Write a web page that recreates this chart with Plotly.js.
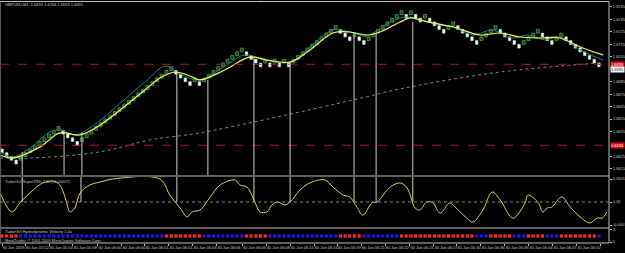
<!DOCTYPE html>
<html><head><meta charset="utf-8">
<script src="https://cdn.plot.ly/plotly-3.0.1.min.js"></script>
<style>html,body{margin:0;padding:0;background:#000;}#c{width:625px;height:253px;}</style>
</head><body><div id="c"></div>
<script>
// ---- data ----
const BRICK = 0.0003;
const closes = [1.6628,1.6625,1.6622,1.6619,
1.6625,1.6628,1.6631,1.6634,1.6637,1.6640,1.6643,1.6646,1.6649,
1.6643,1.6640,1.6637,1.6634,
1.6640,1.6643,1.6646,1.6649,1.6652,1.6655,1.6658,1.6661,1.6664,1.6667,1.6670,1.6673,1.6676,1.6679,1.6682,1.6685,1.6688,1.6691,1.6694,1.6697,
1.6691,1.6688,1.6685,1.6682,
1.6688,1.6682,
1.6688,1.6691,1.6694,1.6697,1.6700,1.6703,1.6706,1.6709,1.6712,
1.6706,1.6703,1.6700,1.6697,
1.6703,1.6697,1.6703,1.6697,1.6703,1.6697,
1.6703,1.6706,1.6709,1.6712,1.6715,1.6718,1.6721,1.6724,1.6727,1.6730,
1.6724,1.6721,1.6718,
1.6724,1.6718,1.6715,
1.6721,1.6724,1.6727,1.6730,1.6733,1.6736,1.6739,1.6742,
1.6736,1.6742,1.6736,1.6733,1.6739,
1.6733,1.6730,1.6727,1.6724,
1.6730,1.6733,
1.6727,1.6724,1.6721,1.6718,1.6715,
1.6721,1.6724,1.6727,1.6730,
1.6724,1.6721,1.6718,1.6715,1.6712,
1.6718,1.6721,1.6724,1.6727,
1.6721,1.6718,1.6715,
1.6721,1.6724,
1.6718,1.6715,1.6712,1.6709,1.6706,1.6703,1.6700,1.6697];

const yellowX = [-0.4,2.3,8.1,12.3,16.6,20.9,30.4,33.6,36.8,40,42.1,47.4,52.8,56.4,61.3,65.5,70.4,74,77.7,80.4,84.7,86.8,88.9,91.7,96,101.7,106,110.2,114.5,118.7,123,127.9];
const yellowY = [1.66262,1.66238,1.66327,1.66439,1.66423,1.66503,1.66784,1.6688,1.66928,1.66896,1.66864,1.66944,1.67049,1.67024,1.67008,1.67105,1.67241,1.67249,1.67225,1.67249,1.6733,1.67362,1.67346,1.67322,1.67289,1.67225,1.67241,1.67209,1.67201,1.67201,1.67129,1.67065];

const tealX = [-0.4,2.3,6,10.2,12.3,15.5,18.7,30.4,34.7,37.9,42.1,47.4,51.7,56,61.3,65.5,70.4,74,77.7,81.5,85.7,88.9,93.2,96,100.2,104.3,108.5,111.9,115.5,118.7,123,127.9];
const tealY = [1.66287,1.66246,1.66319,1.66447,1.66463,1.66423,1.66479,1.66848,1.66976,1.66912,1.66864,1.66976,1.67065,1.67024,1.67008,1.67129,1.67265,1.67249,1.67217,1.67305,1.6737,1.67346,1.67305,1.67289,1.67225,1.67265,1.67201,1.67225,1.67185,1.67209,1.67105,1.67024];

const slowX = [-0.4,6.6,20.9,31.5,42.1,74.7,84.7,106,127.9];
const slowY = [1.66238,1.66238,1.66287,1.66383,1.66439,1.66703,1.66792,1.66928,1.67002];

const levelLines = [1.6699, 1.6634];

const sigMainX = [4.3,13.2,17,37.2,43.8,53.6,61.3,74.9,79.6,87.4];
const sigMainTop = [1.66287,1.66447,1.66439,1.6692,1.66864,1.67041,1.67008,1.67249,1.67241,1.6733];
const sigIndX = [4.3,16.8,37.2,53.6,61.3,74.9,79.6,87.4];

const trdX = [-0.4,2.1,3.8,6.6,8.7,10.9,12.3,13.4,14.5,15.5,16.6,18.7,20.9,23.6,33.6,35.7,37.9,39.4,40.4,42.1,44.3,46.4,49.6,50.6,52.1,53.8,54.9,56.4,57.4,58.7,60.2,61.3,63.4,65.5,68.7,70.4,72.6,74,75.5,76.8,78.7,79.8,82.6,84.7,86.2,87.9,88.9,90.4,91.7,93.2,95.3,96.4,98.9,100.2,102.3,104.3,106,108.7,111.3,111.9,114,115.1,116,117,119.1,120.9,123,125.1,126.6,127.7,128.7];
const trdY = [3.9,-4.35,-0.4,5.2,8.3,9.1,7.4,2.2,-4.35,-2.6,3.9,7.4,8.7,10.0,10.0,3.0,-2.6,-6.5,-4.35,-3.5,2.2,7.4,9.6,7.4,6.5,0,-4.35,-4.35,-1.3,0,-1.3,0,5.2,8.3,9.6,6.5,3.0,2.2,-2.2,-5.7,-0.4,0,6.5,8.3,6.1,-2.6,-3.5,0,-0.4,-4.8,-0.4,-2.2,-7.0,-8.7,-3.5,4.35,0.9,-7.0,-0.4,3.0,0,-4.35,-2.6,-2.2,2.2,-2.2,-6.5,-9.1,-7.0,-7.0,-4.35];

const hvState = [1,1,1,1,
0,0,0,0,0,0,0,0,0,0,0,0,0,0,0,0,0,0,0,0,0,0,0,0,0,0,0,0,0,0,0,
1,1,1,1,1,1,1,1,
0,0,0,0,0,0,0,0,0,
1,1,1,1,1,
0,0,0,0,0,0,0,0,0,0,0,0,0,0,0,
1,1,1,1,1,
0,0,0,0,0,0,0,0,
1,1,1,1,1,1,1,1,1,1,1,1,1,1,1,1,
0,0,0,
1,1,1,1,1,
0,0,0,
1,1,1,1,
0,0,0,
1,1,1,1,1,1,1,1,
0];

const priceTicks = [1.6615,1.6625,1.6645,1.6655,1.6665,1.6675,1.6685,1.6705,1.6715,1.6725,1.6735,1.6745];
const timePos = [0,4.9,10,15.1,20.4,25.5,30.4,35.5,40.6,45.7,51.1,56.2,61.3,66.4,71.3,76.4,81.5,86.8,91.9,96.8,101.9,107,112.1,117.2,122.3,127.4];
const timeLabels = ["30 Jun 2009","30 Jun 05:52","30 Jun 05:54","30 Jun 05:58","30 Jun 06:00","30 Jun 06:00","30 Jun 06:01","30 Jun 06:01","30 Jun 06:03","30 Jun 06:06","30 Jun 06:06","30 Jun 06:08","30 Jun 06:11","30 Jun 06:16","30 Jun 06:19","30 Jun 06:21","30 Jun 06:22","30 Jun 06:23","30 Jun 06:27","30 Jun 06:30","30 Jun 06:36","30 Jun 06:39","30 Jun 06:44","30 Jun 06:47","30 Jun 06:50","30 Jun 06:55"];

// ---- build ----
const upX=[],upBase=[],dnX=[],dnBase=[];
closes.forEach((c,i)=>{
  const prev = i>0 ? closes[i-1] : c + BRICK;
  if (c > prev + 1e-9) { upX.push(i); upBase.push(c - BRICK); }
  else { dnX.push(i); dnBase.push(c); }
});
const idx = closes.map((c,i)=>i);
const F = "Liberation Sans, Arial, sans-serif";
const TXT = '#c8c8c8';

const traces = [
  {type:'scatter',mode:'lines',x:slowX,y:slowY,line:{color:'#8c8c72',width:1,dash:'dot',shape:'spline'},xaxis:'x',yaxis:'y',hoverinfo:'skip'},
  {type:'bar',x:upX,y:upX.map(()=>BRICK),base:upBase,width:0.62,marker:{color:'#173f17',line:{color:'#3f9a3f',width:0.9}},xaxis:'x',yaxis:'y',hoverinfo:'skip'},
  {type:'bar',x:dnX,y:dnX.map(()=>BRICK),base:dnBase,width:0.52,marker:{color:'#f2fff2',line:{color:'#d8f5d8',width:0.6}},xaxis:'x',yaxis:'y',hoverinfo:'skip'},
  {type:'scatter',mode:'lines',x:tealX,y:tealY,line:{color:'#2a8080',width:1,shape:'spline'},xaxis:'x',yaxis:'y',hoverinfo:'skip'},
  {type:'scatter',mode:'lines',x:yellowX,y:yellowY,line:{color:'#f5f56a',width:1.2,shape:'spline'},xaxis:'x',yaxis:'y',hoverinfo:'skip'},
  {type:'scatter',mode:'lines',x:trdX,y:trdY.map(v=>v*1e-5),line:{color:'#e2d27a',width:1,shape:'spline'},xaxis:'x',yaxis:'y2',hoverinfo:'skip'},
  {type:'scatter',mode:'markers',x:idx,y:idx.map(()=>1),marker:{symbol:'square',size:3.2,color:hvState.map(s=>s?'#ff2a2a':'#1a1aee')},xaxis:'x',yaxis:'y3',hoverinfo:'skip'}
];

const H = 243; // plot area height in px
const py = p => (H - p) / H;
const shapes = [];
const grey = '#c0c0c0';
[1.5,176,228,243].forEach(p=>shapes.push({type:'line',xref:'paper',yref:'paper',x0:0,x1:1,y0:py(p),y1:py(p),line:{color:grey,width:1}}));
shapes.push({type:'line',xref:'paper',yref:'paper',x0:1,x1:1,y0:0,y1:py(1.5),line:{color:grey,width:1}});
shapes.push({type:'line',xref:'paper',yref:'paper',x0:0.001,x1:0.001,y0:0,y1:py(1.5),line:{color:'#606060',width:1}});
levelLines.forEach(v=>shapes.push({type:'line',xref:'paper',yref:'y',x0:0,x1:1,y0:v,y1:v,line:{color:'#a81c1c',width:1,dash:'dash'}}));
shapes.push({type:'line',xref:'paper',yref:'y2',x0:0,x1:1,y0:0,y1:0,line:{color:'#8a8a8a',width:1,dash:'dot'}});
sigMainX.forEach((x,k)=>shapes.push({type:'line',xref:'x',yref:'y',x0:x,x1:x,y0:1.66101,y1:sigMainTop[k],line:{color:'#d0d0d0',width:1}}));
sigIndX.forEach(x=>shapes.push({type:'line',xref:'x',yref:'y2',x0:x,x1:x,y0:0,y1:0.0001087,line:{color:'#d0d0d0',width:1}}));

const ann = [
  {text:'GBPUSD,M1  1.6699 1.6706 1.6693 1.6695',x:0.005,y:py(4.5)},
  {text:'TudorGirl SuperTRD 1.0a (-0.00007)',x:0.005,y:py(181)},
  {text:'TudorGirl Hydrodynamic Velocity 1.0a',x:0.005,y:py(231)},
  {text:'MetaTrader, \u00a9 2001-2009 MetaQuotes Software Corp.',x:0.005,y:py(240)}
].map(a=>Object.assign({xref:'paper',yref:'paper',xanchor:'left',yanchor:'middle',showarrow:false,font:{family:F,size:4,color:TXT}},a));
ann.push({text:'1.6699',xref:'paper',yref:'y',x:1.002,y:1.6699,xanchor:'left',yanchor:'middle',showarrow:false,bgcolor:'#e01010',borderpad:0,font:{family:F,size:4,color:'#ffffff'}});
ann.push({text:'1.6634',xref:'paper',yref:'y',x:1.002,y:1.6634,xanchor:'left',yanchor:'middle',showarrow:false,bgcolor:'#e01010',borderpad:0,font:{family:F,size:4,color:'#ffffff'}});
ann.push({text:'1.6695',xref:'paper',yref:'y',x:1.002,y:1.6695,xanchor:'left',yanchor:'middle',showarrow:false,bgcolor:'#ffffff',borderpad:0,font:{family:F,size:4,color:'#000000'}});

const yax = {side:'right',anchor:'x',showgrid:false,zeroline:false,showline:false,ticks:'outside',ticklen:2,tickcolor:grey,tickfont:{family:F,size:4,color:TXT}};
const layout = {
  width:625,height:253,margin:{l:0,r:16,t:0,b:10,pad:0},
  paper_bgcolor:'#000',plot_bgcolor:'#000',showlegend:false,barmode:'overlay',
  xaxis:{range:[-0.43,129.15],anchor:'y3',showgrid:false,zeroline:false,showline:false,
    tickvals:timePos,ticktext:timeLabels,ticks:'outside',ticklen:2,tickcolor:grey,tickangle:0,
    ticklabelposition:'outside right',tickfont:{family:F,size:4,color:TXT}},
  yaxis:Object.assign({},yax,{domain:[py(175),py(2)],range:[1.66101,1.6749],tickvals:priceTicks,tickformat:'.4f'}),
  yaxis2:Object.assign({},yax,{domain:[py(227),py(177)],range:[-0.0001087,0.0001087],tickvals:[0.0001,0,-0.0001],ticktext:['0.0001','0.00','-0.0001']}),
  yaxis3:Object.assign({},yax,{domain:[0,py(228)],range:[-0.167,2.33],tickvals:[2,0],ticktext:['2','0']}),
  shapes:shapes,annotations:ann
};
Plotly.newPlot('c',traces,layout,{staticPlot:true,displayModeBar:false});
</script></body></html>
